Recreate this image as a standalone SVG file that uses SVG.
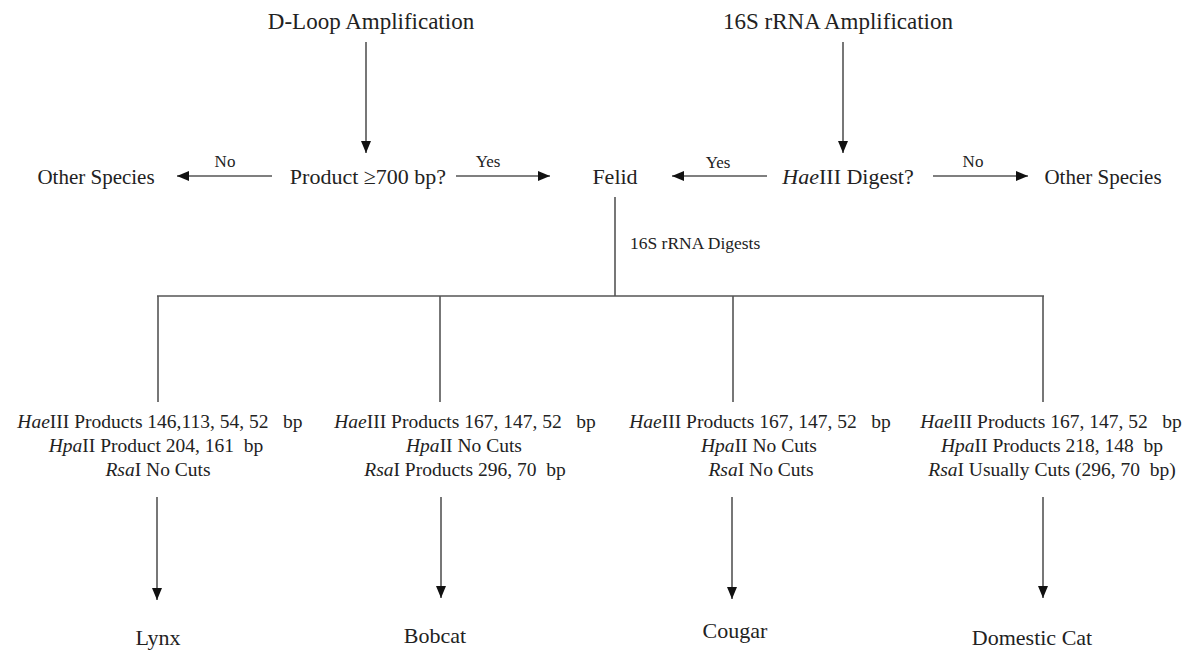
<svg xmlns="http://www.w3.org/2000/svg" width="1194" height="653" viewBox="0 0 1194 653">
  <style>
    .t { font-family: "Liberation Serif", "Times New Roman", serif; fill: #222; white-space: pre; }
    .top { font-size: 23px; }
    .row { font-size: 22px; }
    .os { font-size: 21px; }
    .lbl { font-size: 17px; }
    .blk { font-size: 19.5px; }
    .dig { font-size: 17.5px; }
    .fin { font-size: 22px; }
    .i { font-style: italic; }
    .c { stroke: #555; stroke-width: 1.6; fill: none; }
    .a { marker-end: url(#ah); }
  </style>
  <defs>
    <marker id="ah" viewBox="0 0 12 10" markerWidth="12" markerHeight="10" refX="12" refY="5" orient="auto" markerUnits="userSpaceOnUse">
      <path d="M0,0 L12,5 L0,10 z" fill="#111"/>
    </marker>
  </defs>
  <rect width="1194" height="653" fill="#fff"/>

  <g id="connectors">
    <line class="c a" x1="366" y1="42" x2="366" y2="153"/>
    <line class="c a" x1="843" y1="42" x2="843" y2="153"/>
    <line class="c a" x1="272" y1="176" x2="177" y2="176"/>
    <line class="c a" x1="456" y1="176" x2="550" y2="176"/>
    <line class="c a" x1="767" y1="176" x2="672" y2="176"/>
    <line class="c a" x1="933" y1="176" x2="1028" y2="176"/>
    <line class="c" x1="615" y1="197" x2="615" y2="296"/>
    <line class="c" x1="157" y1="296" x2="1044" y2="296"/>
    <line class="c" x1="158" y1="296" x2="158" y2="402"/>
    <line class="c" x1="440" y1="296" x2="440" y2="402"/>
    <line class="c" x1="733" y1="296" x2="733" y2="402"/>
    <line class="c" x1="1043" y1="296" x2="1043" y2="402"/>
    <line class="c a" x1="157" y1="497" x2="157" y2="600"/>
    <line class="c a" x1="441" y1="497" x2="441" y2="598"/>
    <line class="c a" x1="732" y1="497" x2="732" y2="599"/>
    <line class="c a" x1="1043" y1="497" x2="1043" y2="598"/>
    <text class="t lbl" x="225" y="167" text-anchor="middle">No</text>
    <text class="t lbl" x="488" y="167" text-anchor="middle">Yes</text>
    <text class="t lbl" x="718" y="168" text-anchor="middle">Yes</text>
    <text class="t lbl" x="973" y="167" text-anchor="middle">No</text>
    <text class="t dig" x="630" y="249">16S rRNA Digests</text>
  </g>

  <g id="dloop"><text class="t top" x="371" y="29" text-anchor="middle">D-Loop Amplification</text></g>
  <g id="rrna"><text class="t top" x="838" y="29" text-anchor="middle">16S rRNA Amplification</text></g>

  <g id="other-left"><text class="t os" x="96" y="184" text-anchor="middle">Other Species</text></g>
  <g id="product"><text class="t row" x="368" y="184" text-anchor="middle">Product ≥700 bp?</text></g>
  <g id="felid"><text class="t row" x="615" y="184" text-anchor="middle">Felid</text></g>
  <g id="haeiii"><text class="t row" x="848" y="184" text-anchor="middle"><tspan class="i">Hae</tspan>III Digest?</text></g>
  <g id="other-right"><text class="t os" x="1103" y="184" text-anchor="middle">Other Species</text></g>

  <g id="digest-lynx">
    <text class="t blk" x="160" y="428" text-anchor="middle"><tspan class="i">Hae</tspan>III Products 146,113, 54, 52   bp</text>
    <text class="t blk" x="156" y="452" text-anchor="middle"><tspan class="i">Hpa</tspan>II Product 204, 161  bp</text>
    <text class="t blk" x="158" y="476" text-anchor="middle"><tspan class="i">Rsa</tspan>I No Cuts</text>
  </g>
  <g id="digest-bobcat">
    <text class="t blk" x="465" y="428" text-anchor="middle"><tspan class="i">Hae</tspan>III Products 167, 147, 52   bp</text>
    <text class="t blk" x="464" y="452" text-anchor="middle"><tspan class="i">Hpa</tspan>II No Cuts</text>
    <text class="t blk" x="465" y="476" text-anchor="middle"><tspan class="i">Rsa</tspan>I Products 296, 70  bp</text>
  </g>
  <g id="digest-cougar">
    <text class="t blk" x="760" y="428" text-anchor="middle"><tspan class="i">Hae</tspan>III Products 167, 147, 52   bp</text>
    <text class="t blk" x="759" y="452" text-anchor="middle"><tspan class="i">Hpa</tspan>II No Cuts</text>
    <text class="t blk" x="761" y="476" text-anchor="middle"><tspan class="i">Rsa</tspan>I No Cuts</text>
  </g>
  <g id="digest-domestic">
    <text class="t blk" x="1051" y="428" text-anchor="middle"><tspan class="i">Hae</tspan>III Products 167, 147, 52   bp</text>
    <text class="t blk" x="1052" y="452" text-anchor="middle"><tspan class="i">Hpa</tspan>II Products 218, 148  bp</text>
    <text class="t blk" x="1052" y="476" text-anchor="middle"><tspan class="i">Rsa</tspan>I Usually Cuts (296, 70  bp)</text>
  </g>

  <g id="lynx"><text class="t fin" x="158" y="645" text-anchor="middle">Lynx</text></g>
  <g id="bobcat"><text class="t fin" x="435" y="643" text-anchor="middle">Bobcat</text></g>
  <g id="cougar"><text class="t fin" x="735" y="638" text-anchor="middle">Cougar</text></g>
  <g id="domestic"><text class="t fin" x="1032" y="645" text-anchor="middle">Domestic Cat</text></g>
</svg>
